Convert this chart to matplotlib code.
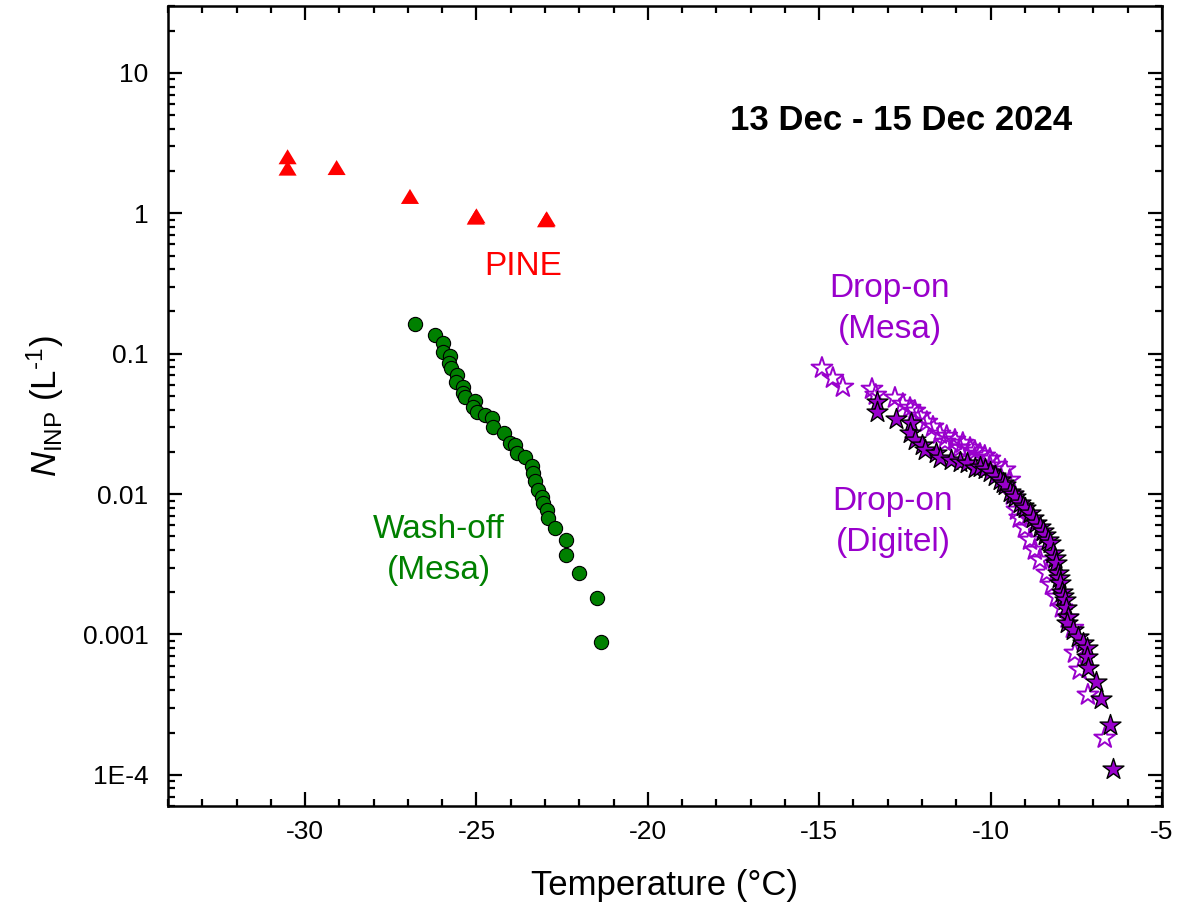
import matplotlib.pyplot as plt
from matplotlib.ticker import FixedLocator, FixedFormatter, MultipleLocator, LogLocator, NullFormatter

plt.rcParams['font.family'] = ['Liberation Sans', 'DejaVu Sans']
plt.rcParams['mathtext.fontset'] = 'custom'
plt.rcParams['mathtext.rm'] = 'Liberation Sans'
plt.rcParams['mathtext.it'] = 'Liberation Sans:italic'
plt.rcParams['axes.unicode_minus'] = False

# PINE online measurements
pine_T = [-30.51, -30.51, -29.08, -26.94, -25.00, -25.02, -22.95, -22.97]
pine_N = [2.53, 2.10, 2.12, 1.32, 0.96, 0.94, 0.915, 0.90]

# Wash-off filter samples (Mesa)
wash_T = [-26.79, -26.21, -25.97, -25.99, -25.77, -25.80, -25.75, -25.58, -25.60,
          -25.39, -25.40, -25.34, -25.04, -25.09, -24.98, -24.75, -24.56, -24.51,
          -24.20, -24.02, -23.88, -23.83, -23.59, -23.39, -23.34, -23.29, -23.20,
          -23.10, -23.07, -22.95, -22.91, -22.71, -22.39, -22.39, -22.00, -21.49,
          -21.38]
wash_N = [0.163, 0.136, 0.119, 0.103, 0.0963, 0.0855, 0.0787, 0.0705, 0.0632,
          0.0576, 0.0522, 0.0494, 0.0463, 0.0419, 0.0386, 0.0366, 0.0347, 0.0302,
          0.0274, 0.0230, 0.0224, 0.0195, 0.0185, 0.0159, 0.0141, 0.0123, 0.0107,
          0.00958, 0.00860, 0.00771, 0.00673, 0.00571, 0.00471, 0.00368, 0.00273,
          0.00183, 0.000889]

# Drop-on freezing assay, Mesa sampler
mesa_T = [-14.92, -14.60, -14.31, -13.46, -13.35, -12.79, -12.56, -12.35, -12.21,
          -12.06, -11.86, -11.68, -11.48, -11.33, -11.28, -11.04, -10.90, -10.81,
          -10.60, -10.46, -10.46, -10.31, -10.17, -10.02, -10.02, -9.82, -9.58,
          -9.44, -9.35, -9.23, -9.15, -9.00, -8.85, -8.71, -8.56, -8.36, -8.21,
          -8.07, -7.92, -7.75, -7.60, -7.54, -7.40, -7.16, -6.67]
mesa_N = [0.0791, 0.0671, 0.0579, 0.0560, 0.0508, 0.0484, 0.0438, 0.0410, 0.0391,
          0.0360, 0.0326, 0.0301, 0.0268, 0.0235, 0.0259, 0.0243, 0.0213, 0.0231,
          0.0213, 0.0203, 0.0181, 0.0193, 0.0187, 0.0178, 0.0159, 0.0161, 0.0149,
          0.0126, 0.00986, 0.00771, 0.00676, 0.00574, 0.00471, 0.00400, 0.00340,
          0.00274, 0.00225, 0.00185, 0.00155, 0.00131, 0.00111, 0.000738,
          0.000559, 0.000371, 0.000183]

# Drop-on freezing assay, Digitel sampler
digi_T = [-13.31, -13.31, -12.77, -12.31, -12.35, -12.21, -12.01, -11.92, -11.58,
          -11.48, -11.14, -10.90, -10.70, -10.46, -10.31, -10.17, -10.02, -9.88,
          -9.73, -9.64, -9.58, -9.44, -9.35, -9.29, -9.15, -9.06, -9.00, -8.85,
          -8.77, -8.66, -8.56, -8.47, -8.42, -8.33, -8.27, -8.18, -8.12, -8.08,
          -8.04, -8.01, -7.98, -7.92, -7.89, -7.83, -7.80, -7.74, -7.78, -7.59,
          -7.45, -7.31, -7.20, -7.20, -7.15, -6.91, -6.79, -6.52, -6.44]
digi_N = [0.0455, 0.0386, 0.0341, 0.0319, 0.0271, 0.0243, 0.0224, 0.0206, 0.0195,
          0.0180, 0.0175, 0.0169, 0.0166, 0.0153, 0.0157, 0.0151, 0.0144, 0.0135,
          0.0126, 0.0120, 0.0116, 0.0104, 0.0100, 0.00953, 0.00860, 0.00823,
          0.00796, 0.00730, 0.00676, 0.00619, 0.00586, 0.00546, 0.00512, 0.00471,
          0.00447, 0.00381, 0.00351, 0.00321, 0.00274, 0.00253, 0.00233, 0.00201,
          0.00188, 0.00176, 0.00155, 0.00134, 0.00120, 0.00108, 0.000964,
          0.000869, 0.000798, 0.000695, 0.000574, 0.000461, 0.000345, 0.000227,
          0.000111]

y_ticks = [1e-4, 1e-3, 1e-2, 1e-1, 1, 10]
y_tick_labels = ['1E-4', '0.001', '0.01', '0.1', '1', '10']

red = '#FF0000'
green = '#008000'
purple = '#9900CC'

fig = plt.figure(figsize=(11.83, 9.09), dpi=100)
ax = fig.add_axes([0.142, 0.1133, 0.8402, 0.8801])

ax.scatter(pine_T, pine_N, marker=[(-1, -0.83), (1, -0.83), (0, 0.83)], s=170,
           c=red, edgecolors='none', zorder=3)
ax.scatter(wash_T, wash_N, marker='o', s=105, c=green, edgecolors='black',
           linewidths=0.8, zorder=3)
ax.scatter(mesa_T, mesa_N, marker='*', s=250, facecolors='none',
           edgecolors=purple, linewidths=1.4, zorder=3)
ax.scatter(digi_T, digi_N, marker='*', s=250, c=purple, edgecolors='black',
           linewidths=1.0, zorder=4)

ax.set_xlim(-34, -5)
ax.set_yscale('log')
ax.set_ylim(6e-5, 30)

ax.xaxis.set_major_locator(MultipleLocator(5))
ax.xaxis.set_minor_locator(MultipleLocator(1))
ax.yaxis.set_major_locator(FixedLocator(y_ticks))
ax.yaxis.set_major_formatter(FixedFormatter(y_tick_labels))
ax.yaxis.set_minor_locator(LogLocator(base=10, subs=range(2, 10), numticks=20))
ax.yaxis.set_minor_formatter(NullFormatter())

ax.tick_params(which='both', direction='in', top=True, right=True, width=1.6)
ax.tick_params(which='major', length=10)
ax.tick_params(which='minor', length=5)
ax.tick_params(axis='x', which='major', labelsize=19, pad=10)
ax.tick_params(axis='y', which='major', labelsize=19, pad=14)
for sp in ax.spines.values():
    sp.set_linewidth(1.8)

ax.set_xlabel('Temperature (°C)', fontsize=25, labelpad=18)
ax.set_ylabel(r'$\mathit{N}_{\mathrm{INP}}$ (L$^{\text{-1}}$)', fontsize=25, labelpad=12)

ax.text(0.738, 0.8575, '13 Dec - 15 Dec 2024', transform=ax.transAxes,
        fontsize=25, fontweight='bold', ha='center', va='center')
ax.text(-23.64, 0.415, 'PINE', color=red, fontsize=24, ha='center', va='center')
ax.text(-26.09, 0.0040, 'Wash-off\n(Mesa)', color=green, fontsize=24,
        ha='center', va='center', linespacing=1.4)
ax.text(-12.94, 0.208, 'Drop-on\n(Mesa)', color=purple, fontsize=24,
        ha='center', va='center', linespacing=1.4)
ax.text(-12.85, 0.00632, 'Drop-on\n(Digitel)', color=purple, fontsize=24,
        ha='center', va='center', linespacing=1.4)

fig.savefig('out.png', dpi=100)
